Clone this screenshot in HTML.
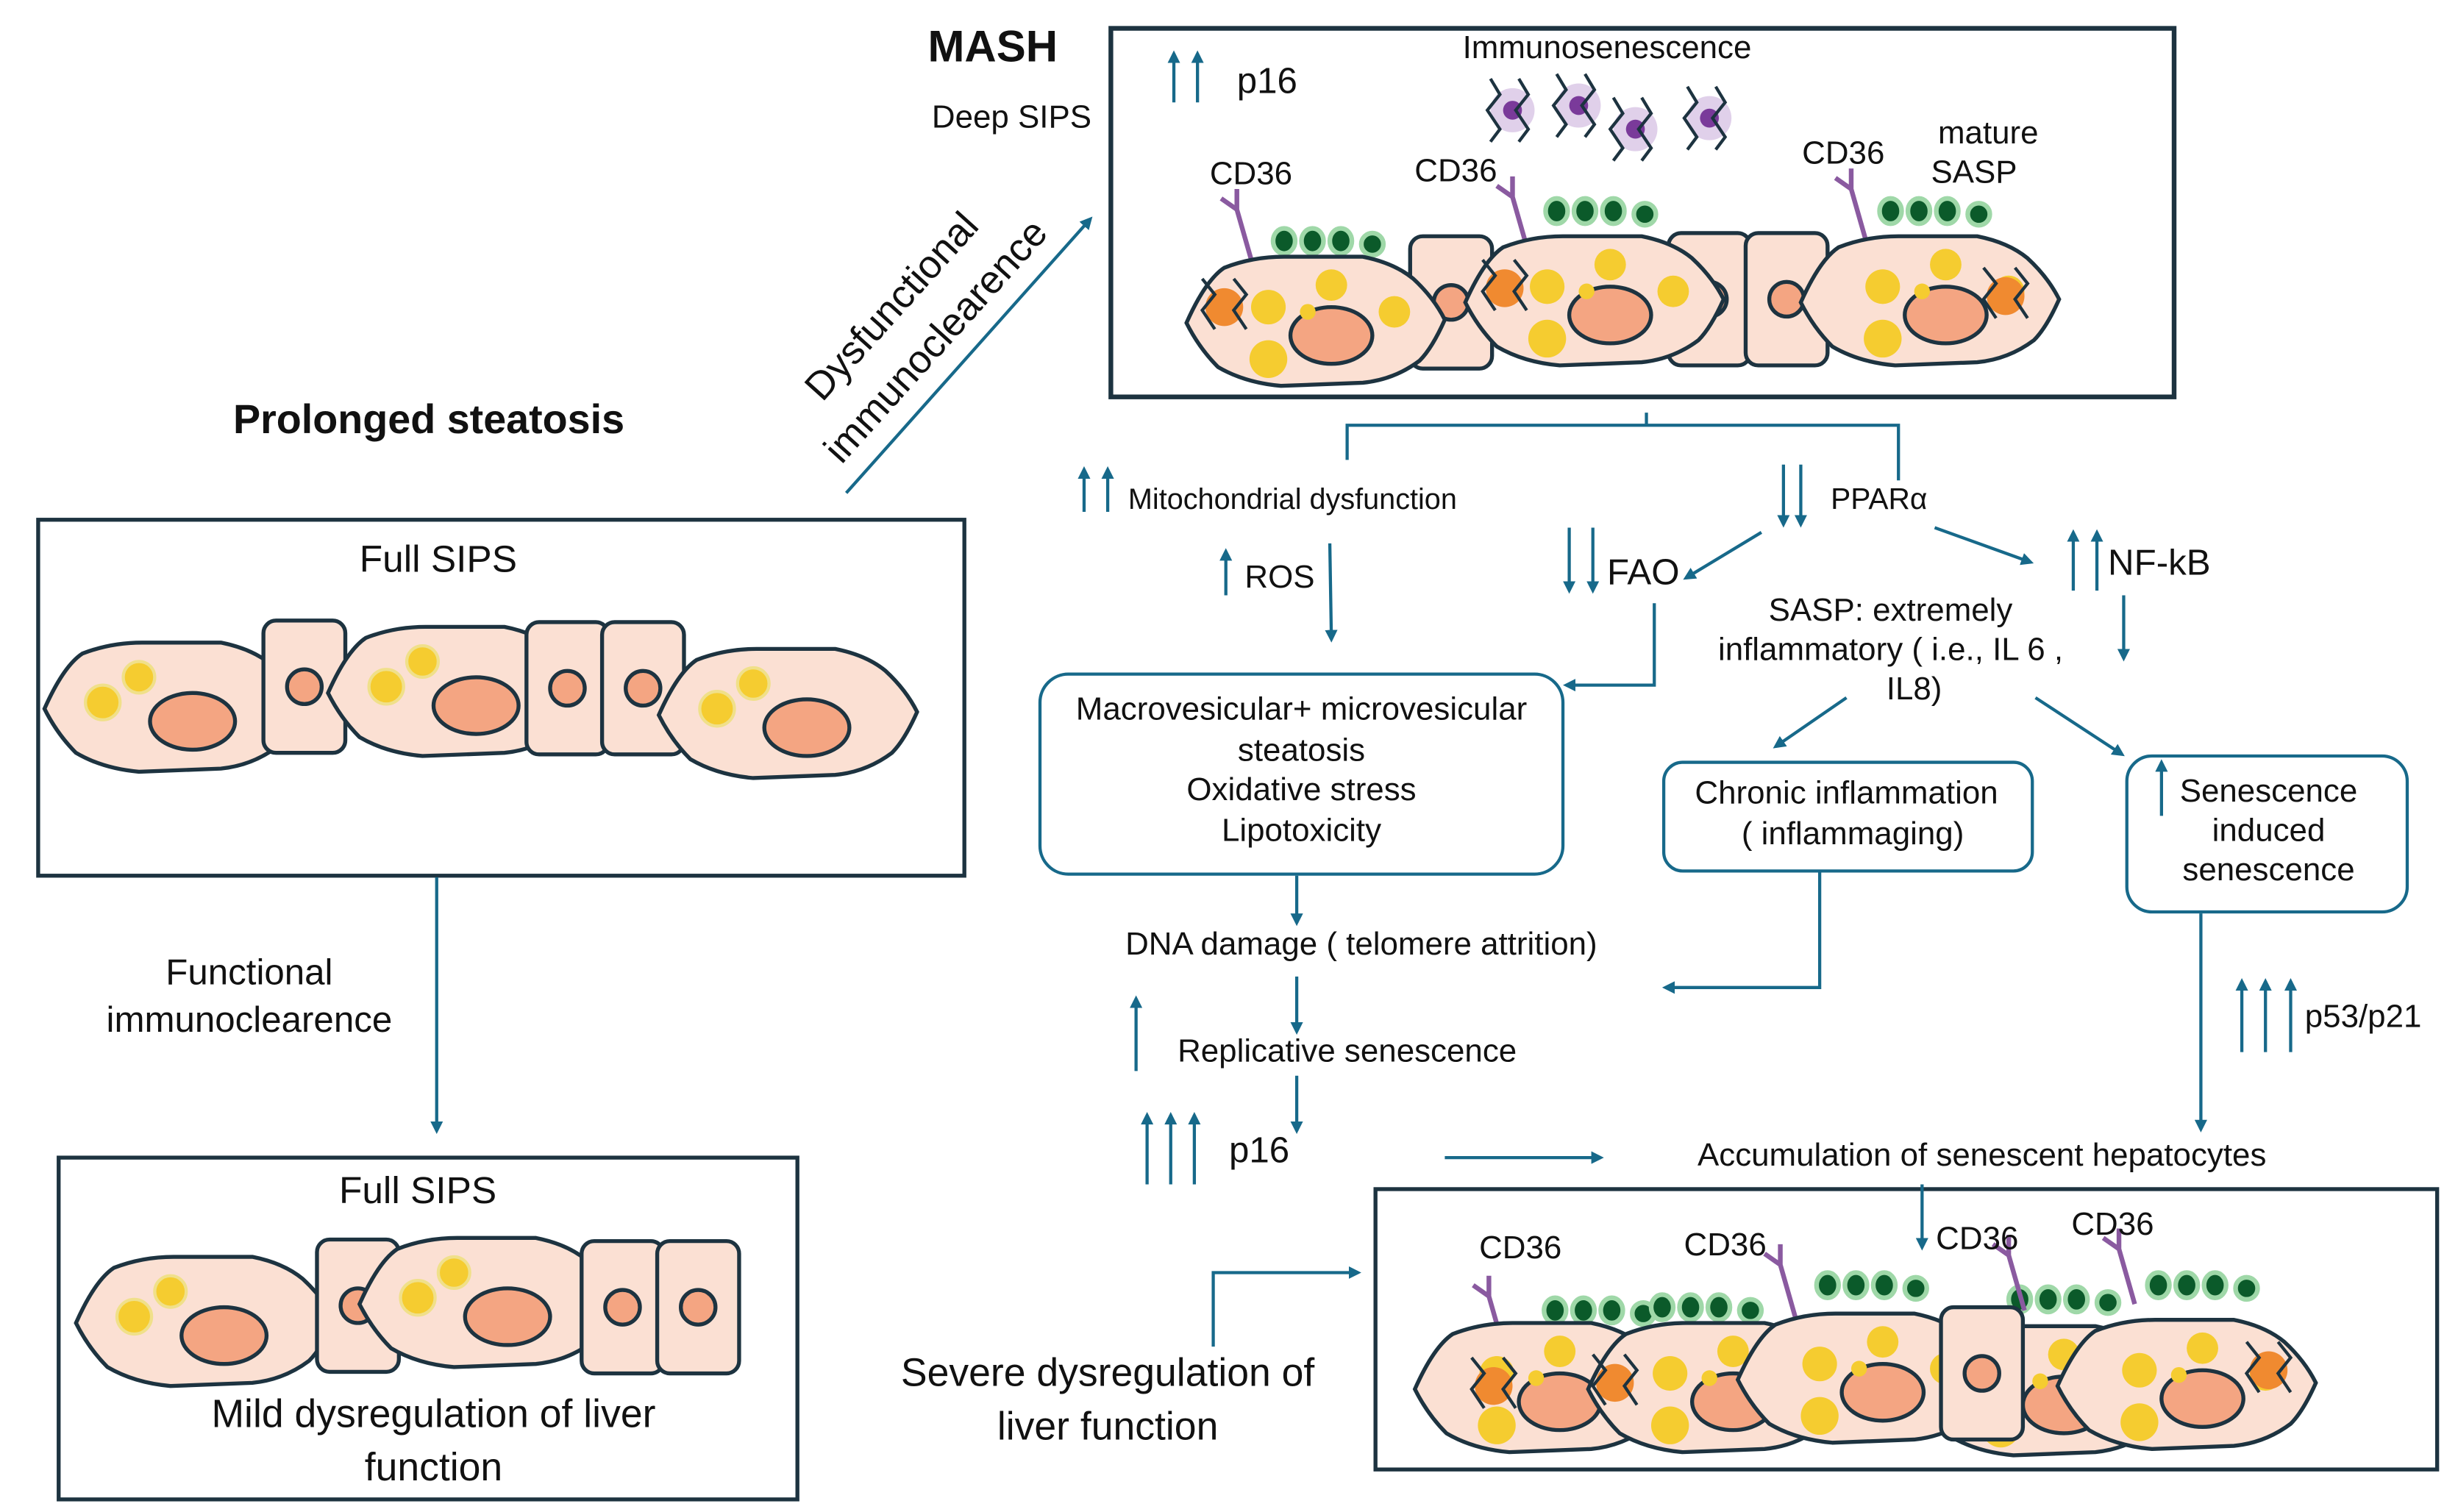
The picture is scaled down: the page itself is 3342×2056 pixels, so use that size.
<!DOCTYPE html>
<html><head><meta charset="utf-8"><style>
html,body{margin:0;padding:0;background:#fff;}
svg{display:block;}
text{font-family:"Liberation Sans",sans-serif;fill:#111;}
</style></head><body>
<svg width="3342" height="2056" viewBox="0 0 1560 960" xmlns="http://www.w3.org/2000/svg">
<defs>
<marker id="ah" markerWidth="8" markerHeight="8" refX="6" refY="4" orient="auto" markerUnits="userSpaceOnUse"><path d="M0,0 L8,4 L0,8 Z" fill="#17698a"/></marker>
<g id="hep">
<path d="M-82,2 Q-70,-25 -58,-33 Q-40,-40 -20,-40 L30,-40 Q50,-36 62,-26 Q75,-14 82,0 Q74,18 66,26 Q50,38 30,40 L-22,42 Q-45,40 -62,30 Q-74,18 -82,2 Z" fill="#fbe0d3" stroke="#1d3340" stroke-width="2.5"/>
<ellipse cx="12" cy="10" rx="27" ry="18" fill="#f4a582" stroke="#1d3340" stroke-width="2.5"/>
<circle cx="-45" cy="-2" r="11" fill="#f5cc30" stroke="#f0e08a" stroke-width="2"/>
<circle cx="-22" cy="-18" r="10" fill="#f5cc30" stroke="#f0e08a" stroke-width="2"/>
</g>
<g id="hep2">
<path d="M-82,2 Q-70,-25 -58,-33 Q-40,-40 -20,-40 L30,-40 Q50,-36 62,-26 Q75,-14 82,0 Q74,18 66,26 Q50,38 30,40 L-22,42 Q-45,40 -62,30 Q-74,18 -82,2 Z" fill="#fbe0d3" stroke="#1d3340" stroke-width="2.5"/>
<ellipse cx="10" cy="10" rx="26" ry="18" fill="#f4a582" stroke="#1d3340" stroke-width="2.5"/>
<circle cx="-30" cy="-8" r="11" fill="#f5cc30"/>
<circle cx="10" cy="-22" r="10" fill="#f5cc30"/>
<circle cx="50" cy="-5" r="10" fill="#f5cc30"/>
<circle cx="-30" cy="25" r="12" fill="#f5cc30"/>
<circle cx="-5" cy="-5" r="5" fill="#f5cc30"/>
</g>
<g id="rc"><rect x="-26" y="-42" width="52" height="84" rx="8" fill="#fbe0d3" stroke="#1d3340" stroke-width="2.5"/><circle cx="0" cy="0" r="11" fill="#f4a582" stroke="#1d3340" stroke-width="2.5"/></g>
<g id="sasp"><g fill="#0b5a2a" stroke="#9fd8a8" stroke-width="3"><ellipse cx="0" cy="0" rx="7" ry="8"/><ellipse cx="18" cy="0" rx="7" ry="8"/><ellipse cx="36" cy="0" rx="7" ry="8"/><ellipse cx="56" cy="2" rx="7" ry="7"/></g></g>
<g id="cd"><path d="M0,0 L-10,-35 M-10,-35 L-20,-42 M-10,-35 L-10,-48" stroke="#8a5aa0" stroke-width="3" fill="none"/></g>
<g id="mac"><circle r="12" fill="#f08a30"/><path d="M-14,-18 L-6,-8 L-14,2 L-6,14 M6,-18 L14,-8 L6,2 L14,14" stroke="#1d3340" stroke-width="2" fill="none"/></g>
<g id="imm"><circle r="14" fill="#e0d0ea"/><circle r="6" fill="#7a3a9a"/><path d="M-14,-20 L-8,-10 L-16,0 L-8,12 L-14,20 M4,-20 L10,-10 L2,0 L10,12 L4,20" stroke="#1d3340" stroke-width="2" fill="none"/></g>
</defs>
<g stroke="#17698a" stroke-width="2" fill="none">
<rect x="705" y="18" width="675" height="234" stroke="#1d3340" stroke-width="3"/>
<rect x="24" y="330" width="588" height="226" stroke="#1d3340" stroke-width="2.5"/>
<rect x="37" y="735" width="469" height="217" stroke="#1d3340" stroke-width="2.5"/>
<rect x="873" y="755" width="674" height="178" stroke="#1d3340" stroke-width="2.5"/>
<rect x="660" y="428" width="332" height="127" rx="18"/>
<rect x="1056" y="484" width="234" height="69" rx="12"/>
<rect x="1350" y="480" width="178" height="99" rx="16"/>
<line x1="537" y1="313" x2="692" y2="139" marker-end="url(#ah)"/>
<line x1="277" y1="557" x2="277" y2="718" marker-end="url(#ah)"/>
<polyline points="855,292 855,270 1205,270 1205,305"/>
<line x1="1045" y1="262" x2="1045" y2="270"/>
<line x1="844" y1="345" x2="845" y2="406" marker-end="url(#ah)"/>
<line x1="1118" y1="338" x2="1070" y2="367" marker-end="url(#ah)"/>
<line x1="1228" y1="335" x2="1289" y2="357" marker-end="url(#ah)"/>
<line x1="1348" y1="378" x2="1348" y2="418" marker-end="url(#ah)"/>
<polyline points="1050,383 1050,435 994,435" marker-end="url(#ah)"/>
<line x1="1172" y1="443" x2="1127" y2="474" marker-end="url(#ah)"/>
<line x1="1292" y1="443" x2="1347" y2="479" marker-end="url(#ah)"/>
<line x1="823" y1="556" x2="823" y2="586" marker-end="url(#ah)"/>
<polyline points="1155,553 1155,627 1057,627" marker-end="url(#ah)"/>
<line x1="823" y1="620" x2="823" y2="655" marker-end="url(#ah)"/>
<line x1="823" y1="683" x2="823" y2="718" marker-end="url(#ah)"/>
<line x1="917" y1="735" x2="1016" y2="735" marker-end="url(#ah)"/>
<line x1="1397" y1="580" x2="1397" y2="717" marker-end="url(#ah)"/>
<line x1="1220" y1="752" x2="1220" y2="792" marker-end="url(#ah)"/>
<polyline points="770,855 770,808 862,808" marker-end="url(#ah)"/>
<line x1="745" y1="65" x2="745" y2="34" marker-end="url(#ah)"/><line x1="760" y1="65" x2="760" y2="34" marker-end="url(#ah)"/>
<line x1="688" y1="325" x2="688" y2="298" marker-end="url(#ah)"/><line x1="703" y1="325" x2="703" y2="298" marker-end="url(#ah)"/>
<line x1="778" y1="378" x2="778" y2="350" marker-end="url(#ah)"/>
<line x1="996" y1="335" x2="996" y2="375" marker-end="url(#ah)"/><line x1="1011" y1="335" x2="1011" y2="375" marker-end="url(#ah)"/>
<line x1="1132" y1="295" x2="1132" y2="333" marker-end="url(#ah)"/><line x1="1143" y1="295" x2="1143" y2="333" marker-end="url(#ah)"/>
<line x1="1316" y1="375" x2="1316" y2="338" marker-end="url(#ah)"/><line x1="1331" y1="375" x2="1331" y2="338" marker-end="url(#ah)"/>
<line x1="1372" y1="518" x2="1372" y2="484" marker-end="url(#ah)"/>
<line x1="721" y1="680" x2="721" y2="634" marker-end="url(#ah)"/>
<line x1="728" y1="752" x2="728" y2="708" marker-end="url(#ah)"/><line x1="743" y1="752" x2="743" y2="708" marker-end="url(#ah)"/><line x1="758" y1="752" x2="758" y2="708" marker-end="url(#ah)"/>
<line x1="1423" y1="668" x2="1423" y2="623" marker-end="url(#ah)"/><line x1="1438" y1="668" x2="1438" y2="623" marker-end="url(#ah)"/><line x1="1454" y1="668" x2="1454" y2="623" marker-end="url(#ah)"/>
</g>
<use href="#hep" transform="translate(110,448)"/>
<use href="#rc" transform="translate(193,436)"/>
<use href="#hep" transform="translate(290,438)"/>
<use href="#rc" transform="translate(360,437)"/>
<use href="#rc" transform="translate(408,437)"/>
<use href="#hep" transform="translate(500,452)"/>
<use href="#hep" transform="translate(130,838)"/>
<use href="#rc" transform="translate(227,829)"/>
<use href="#hep" transform="translate(310,826)"/>
<use href="#rc" transform="translate(395,830)"/>
<use href="#rc" transform="translate(443,830)"/>
<use href="#sasp" transform="translate(815,153)"/>
<use href="#sasp" transform="translate(988,134)"/>
<use href="#sasp" transform="translate(1200,134)"/>
<use href="#cd" transform="translate(795,168)"/>
<use href="#cd" transform="translate(970,160)"/>
<use href="#cd" transform="translate(1185,155)"/>
<use href="#rc" transform="translate(921,192)"/>
<use href="#rc" transform="translate(1085,190)"/>
<use href="#rc" transform="translate(1134,190)"/>
<use href="#hep2" transform="translate(835,203)"/>
<use href="#hep2" transform="translate(1012,190)"/>
<use href="#hep2" transform="translate(1225,190)"/>
<use href="#mac" transform="translate(777,195)"/>
<use href="#mac" transform="translate(955,183)"/>
<use href="#mac" transform="translate(1273,188)"/>
<use href="#imm" transform="translate(960,70)"/>
<use href="#imm" transform="translate(1002,67)"/>
<use href="#imm" transform="translate(1038,82)"/>
<use href="#imm" transform="translate(1085,75)"/>
<use href="#sasp" transform="translate(987,832)"/>
<use href="#sasp" transform="translate(1055,830)"/>
<use href="#sasp" transform="translate(1160,816)"/>
<use href="#sasp" transform="translate(1282,825)"/>
<use href="#sasp" transform="translate(1370,816)"/>
<use href="#cd" transform="translate(955,858)"/>
<use href="#cd" transform="translate(1140,838)"/>
<use href="#cd" transform="translate(1285,832)"/>
<use href="#cd" transform="translate(1355,828)"/>
<use href="#hep2" transform="translate(980,880)"/>
<use href="#hep2" transform="translate(1090,880)"/>
<use href="#hep2" transform="translate(1300,882)"/>
<use href="#hep2" transform="translate(1185,874)"/>
<use href="#rc" transform="translate(1258,872)"/>
<use href="#hep2" transform="translate(1388,878)"/>
<use href="#mac" transform="translate(948,880)"/>
<use href="#mac" transform="translate(1025,878)"/>
<use href="#mac" transform="translate(1440,870)"/>
<g font-size="20.5">
<text x="630" y="39" font-size="28" font-weight="bold" text-anchor="middle">MASH</text>
<text x="642" y="81" text-anchor="middle">Deep SIPS</text>
<text x="785" y="59" font-size="23">p16</text>
<text x="1020" y="37" text-anchor="middle">Immunosenescence</text>
<text x="794" y="117" text-anchor="middle">CD36</text>
<text x="924" y="115" text-anchor="middle">CD36</text>
<text x="1170" y="104" text-anchor="middle">CD36</text>
<text x="1262" y="91" text-anchor="middle">mature</text>
<text x="1253" y="116" text-anchor="middle">SASP</text>
<text x="272" y="275" font-size="26" font-weight="bold" text-anchor="middle">Prolonged steatosis</text>
<text x="278" y="363" font-size="24" text-anchor="middle">Full SIPS</text>
<text x="265" y="764" font-size="24" text-anchor="middle">Full SIPS</text>
<text x="275" y="906" font-size="25" text-anchor="middle">Mild dysregulation of liver</text>
<text x="275" y="940" font-size="25" text-anchor="middle">function</text>
<text x="158" y="625" font-size="23" text-anchor="middle">Functional</text>
<text x="158" y="655" font-size="23" text-anchor="middle">immunoclearence</text>
<text transform="translate(572,200) rotate(-48)" font-size="25" text-anchor="middle">Dysfunctional</text>
<text transform="translate(600,222) rotate(-48)" font-size="25" text-anchor="middle">immunoclearence</text>
<text x="716" y="323" font-size="18.5">Mitochondrial dysfunction</text>
<text x="790" y="373">ROS</text>
<text x="1020" y="371" font-size="23">FAO</text>
<text x="1162" y="323" font-size="19">PPARα</text>
<text x="1338" y="365" font-size="23">NF-kB</text>
<text x="1200" y="394" text-anchor="middle">SASP: extremely</text>
<text x="1200" y="419" text-anchor="middle">inflammatory ( i.e., IL 6 ,</text>
<text x="1215" y="444" text-anchor="middle">IL8)</text>
<text x="826" y="457" text-anchor="middle">Macrovesicular+ microvesicular</text>
<text x="826" y="483" text-anchor="middle">steatosis</text>
<text x="826" y="508" text-anchor="middle">Oxidative stress</text>
<text x="826" y="534" text-anchor="middle">Lipotoxicity</text>
<text x="1172" y="510" text-anchor="middle">Chronic inflammation</text>
<text x="1176" y="536" text-anchor="middle">( inflammaging)</text>
<text x="1440" y="509" text-anchor="middle">Senescence</text>
<text x="1440" y="534" text-anchor="middle">induced</text>
<text x="1440" y="559" text-anchor="middle">senescence</text>
<text x="864" y="606" text-anchor="middle">DNA damage ( telomere attrition)</text>
<text x="855" y="674" text-anchor="middle">Replicative senescence</text>
<text x="780" y="738" font-size="23">p16</text>
<text x="1258" y="740" text-anchor="middle">Accumulation of senescent hepatocytes</text>
<text x="1463" y="652">p53/p21</text>
<text x="965" y="799" text-anchor="middle">CD36</text>
<text x="1095" y="797" text-anchor="middle">CD36</text>
<text x="1255" y="793" text-anchor="middle">CD36</text>
<text x="1341" y="784" text-anchor="middle">CD36</text>
<text x="703" y="880" font-size="25" text-anchor="middle">Severe dysregulation of</text>
<text x="703" y="914" font-size="25" text-anchor="middle">liver function</text>
</g>
</svg>
</body></html>
